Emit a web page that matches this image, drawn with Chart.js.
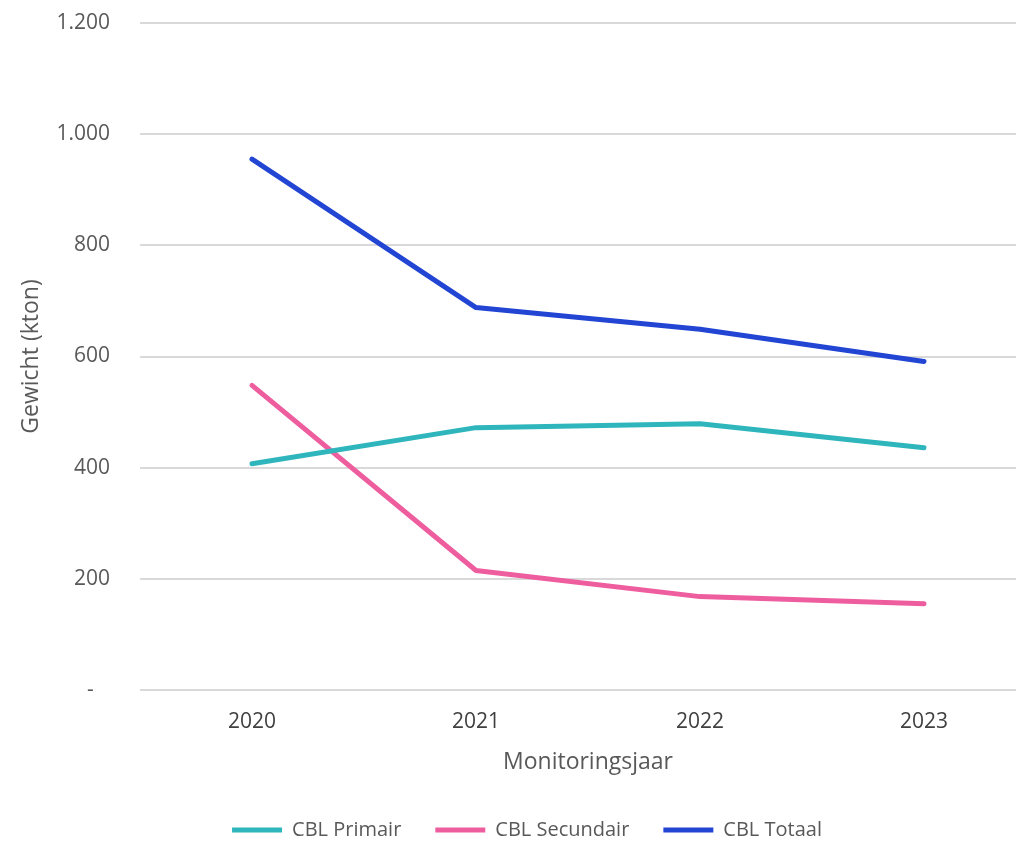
<!DOCTYPE html>
<html>
<head>
<meta charset="utf-8">
<script src="https://cdn.jsdelivr.net/npm/chart.js@4/dist/chart.umd.min.js"></script>
<style>
  html, body { margin: 0; padding: 0; background: #fff; overflow: hidden; }
  #wrap { width: 1052px; height: 841px; }
</style>
</head>
<body>
<div id="wrap"><canvas id="chart" width="1052" height="841"></canvas></div>
<script>
const years = ['2020', '2021', '2022', '2023'];
const primair = [407, 472, 479, 436];
const secundair = [548, 215, 168, 155];
const totaal = [955, 688, 649, 591];
const yTicks = [0, 200, 400, 600, 800, 1000, 1200];

const font = '"Open Sans", "Noto Sans", sans-serif';

const line = (label, data, color) => ({
  label,
  data,
  borderColor: color,
  backgroundColor: color,
  borderWidth: 5,
  borderCapStyle: 'round',
  borderJoinStyle: 'round',
  pointRadius: 0,
  pointStyle: 'line',
  tension: 0
});

new Chart(document.getElementById('chart').getContext('2d'), {
  type: 'line',
  data: {
    labels: years,
    datasets: [
      line('CBL Primair', primair, '#2FB6BC'),
      line('CBL Secundair', secundair, '#EE5E9F'),
      line('CBL Totaal', totaal, '#2245D3')
    ]
  },
  options: {
    responsive: false,
    animation: false,
    layout: { padding: { top: 23, right: 16, left: 18, bottom: -9 } },
    plugins: {
      legend: {
        position: 'bottom',
        labels: {
          usePointStyle: true,
          pointStyleWidth: 50,
          boxHeight: 5,
          color: '#595959',
          font: { family: font, size: 20 },
          padding: 34
        }
      },
      tooltip: { enabled: false }
    },
    scales: {
      x: {
        offset: true,
        grid: { display: false },
        border: { display: false },
        ticks: { color: '#404040', font: { family: font, size: 21 }, padding: 11 },
        title: {
          display: true,
          text: 'Monitoringsjaar',
          color: '#595959',
          font: { family: font, size: 23 },
          padding: { top: 0, bottom: 10 }
        },
        // fixed axis height so the title and ticks land where the original has them
        afterFit: axis => { axis.height = 96; }
      },
      y: {
        min: 0,
        max: 1200,
        afterBuildTicks: axis => { axis.ticks = yTicks.map(v => ({ value: v })); },
        afterFit: axis => {
          axis.width = 122;
          axis.paddingTop = 0;
          axis.paddingBottom = 0;
        },
        grid: { color: '#D9D9D9', lineWidth: 2, drawTicks: false },
        border: { display: false },
        ticks: {
          color: '#595959',
          font: { family: font, size: 21 },
          padding: 30,
          // zero shows as a dash, like the accounting format in the original
          callback: v => v === 0 ? '-   ' : v.toLocaleString('nl-NL')
        },
        title: {
          display: true,
          text: 'Gewicht (kton)',
          color: '#595959',
          font: { family: font, size: 23 },
          padding: { top: 0, bottom: 0 }
        }
      }
    }
  }
});
</script>
</body>
</html>
